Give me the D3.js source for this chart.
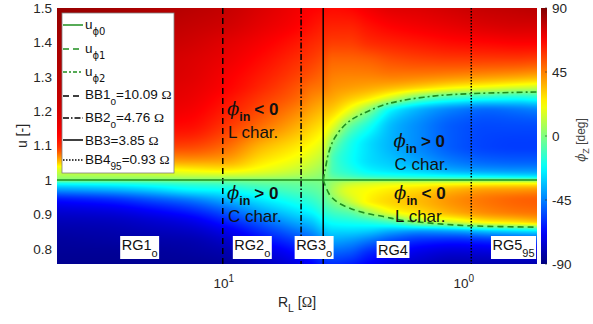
<!DOCTYPE html>
<html>
<head>
<meta charset="utf-8">
<script src="https://cdn.jsdelivr.net/npm/d3@7"></script>
<style>
  html, body { margin: 0; padding: 0; background: #fff; }
  svg { display: block; font-family: "Liberation Sans", Arial, Helvetica, sans-serif; }
</style>
</head>
<body>
<svg id="chart" width="593" height="324"></svg>
<script>
// ---- data ---------------------------------------------------------------
// Load resistance R_L [Ω] of each column of the phase map
const rlGrid = [49.5, 30, 20, 14, 10, 7, 5, 4.3, 3.85, 3.5, 3.0, 2.5, 2.0, 1.5, 1.1, 0.8, 0.6, 0.495];
// Normalised frequency u [-] of each row of the phase map (top to bottom)
const uGrid = [1.5, 1.45, 1.4, 1.35, 1.3, 1.27, 1.24, 1.2, 1.15, 1.1, 1.06, 1.03, 1.01, 1.0,
               0.99, 0.97, 0.94, 0.91, 0.88, 0.85, 0.82, 0.79, 0.756];
// Impedance phase φZ [deg]; one array per R_L column, ordered like uGrid
const phiZ = [
  [86, 85, 83, 82, 80, 79, 78, 75, 70, 60, 38, 16, 6, 0, -20, -42, -66, -75, -80, -83, -85, -86, -87],
  [84, 83, 81, 79, 78, 77, 76, 73, 68, 58, 38, 17, 7, 0, -18, -38, -62, -73, -79, -82, -84, -86, -87],
  [82, 80, 78, 76, 75, 74, 73, 71, 66, 57, 40, 20, 8, 0, -15, -32, -55, -68, -76, -80, -83, -85, -86],
  [80, 78, 76, 74, 73, 72, 71, 69, 65, 56, 42, 24, 10, 0, -12, -25, -48, -62, -72, -78, -82, -84, -86],
  [78, 76, 73, 71, 69, 68, 66, 63, 58, 50, 40, 26, 10, 0, -10, -22, -38, -52, -63, -72, -78, -82, -85],
  [74, 72, 69, 66, 63, 61, 58, 54, 47, 36, 28, 20, 9, 0, -6, -15, -27, -38, -50, -60, -68, -75, -80],
  [70, 68, 64, 60, 56, 53, 50, 44, 36, 27, 20, 13, 6, 0, -4, -9, -18, -27, -37, -48, -58, -66, -73],
  [68, 65, 61, 57, 52, 48, 44, 38, 30, 22, 15, 9, 4, 0, -3, -7, -14, -22, -32, -42, -52, -60, -68],
  [67, 63, 59, 54, 49, 46, 41, 34, 25, 16, 9, 4, 1, 0, -1, -3, -8, -15, -24, -34, -44, -53, -62],
  [66, 62, 57, 50, 45, 42, 38, 30, 15, -3, -10, -10, -6, 0, 5, 7, 0, -10, -20, -30, -40, -50, -60],
  [67, 62, 57, 50, 44, 40, 33, 18, -6, -18, -20, -17, -10, 0, 12, 18, 12, -5, -18, -30, -42, -52, -62],
  [70, 65, 60, 51, 44, 38, 27, 0, -20, -28, -28, -24, -14, 0, 15, 22, 24, 8, -15, -32, -48, -60, -68],
  [73, 68, 62, 54, 45, 35, 15, -25, -35, -36, -33, -28, -16, 0, 17, 26, 30, 22, -8, -38, -56, -66, -74],
  [74, 70, 64, 56, 44, 30, -3, -38, -44, -44, -40, -32, -18, 0, 18, 30, 35, 30, 8, -42, -62, -72, -78],
  [76, 72, 66, 57, 42, 24, -12, -46, -52, -52, -47, -38, -20, 0, 20, 36, 42, 38, 16, -40, -64, -75, -82],
  [78, 74, 67, 57, 40, 20, -16, -50, -55, -56, -51, -41, -22, 0, 21, 40, 47, 44, 26, -34, -62, -74, -82],
  [79, 75, 68, 57, 38, 16, -18, -48, -55, -57, -52, -42, -24, 0, 22, 41, 50, 47, 30, -30, -60, -73, -82],
  [80, 75, 68, 56, 36, 14, -16, -46, -55, -57, -52, -42, -25, 0, 22, 42, 51, 48, 34, -28, -58, -72, -82]
];

// Zero-phase loci: lower branch u_φ1 and upper branch u_φ2
const uPhi1R = [3.85, 3.78, 3.61, 3.38, 2.98, 2.54, 2.16, 1.84, 1.34, 0.94, 0.495];
const uPhi1  = [1.0, 0.985, 0.956, 0.937, 0.918, 0.903, 0.894, 0.884, 0.874, 0.867, 0.863];
const uPhi2R = [3.85, 3.78, 3.66, 3.49, 3.18, 2.88, 2.54, 2.16, 1.84, 1.34, 0.94, 0.495];
const uPhi2  = [1.0, 1.029, 1.077, 1.116, 1.155, 1.179, 1.198, 1.218, 1.230, 1.244, 1.251, 1.256];
const uPhi0  = 1.0;

// Bifurcation boundaries
const bbNames = ["BB1", "BB2", "BB3", "BB4"];
const bbSubs  = ["o", "o", "", "95"];
const bbValues = [10.09, 4.76, 3.85, 0.93];

// Operating regions
const regionNames = ["RG1", "RG2", "RG3", "RG4", "RG5"];
const regionSubs  = ["o", "o", "o", "", "95"];

// Axis ticks
const yTicks = [0.8, 0.9, 1, 1.1, 1.2, 1.3, 1.4, 1.5];
const xTickValues = [10, 1];
const xTickExponents = [1, 0];
const cbTicks = [-90, -45, 0, 45, 90];

// ---- layout -------------------------------------------------------------
const svg = d3.select("#chart");
const plot = { left: 57, right: 537, top: 8, bottom: 264 };
const x = d3.scaleLog().domain([49.5, 0.495]).range([plot.left, plot.right]);
const y = d3.scaleLinear().domain([0.756, 1.5]).range([plot.bottom, plot.top]);

// jet colour map over −90…90 deg
const color = d3.scaleLinear()
  .domain([-90, -67.5, -22.5, 22.5, 67.5, 90])
  .range(["#000080", "#0000ff", "#00ffff", "#ffff00", "#ff0000", "#800000"])
  .clamp(true);

const green = "#1f8f1f";
const ink = "#262626";

// ---- shape-preserving cubic (PCHIP) through grid nodes ---------------------
function pchipSlopes(xs, ys) {
  const n = xs.length, h = [], d = [], m = new Array(n);
  for (let k = 0; k < n - 1; k++) { h[k] = xs[k + 1] - xs[k]; d[k] = (ys[k + 1] - ys[k]) / h[k]; }
  m[0] = d[0]; m[n - 1] = d[n - 2];
  for (let k = 1; k < n - 1; k++) {
    if (d[k - 1] * d[k] <= 0) m[k] = 0;
    else {
      const w1 = 2 * h[k] + h[k - 1], w2 = h[k] + 2 * h[k - 1];
      m[k] = (w1 + w2) / (w1 / d[k - 1] + w2 / d[k]);
    }
  }
  return m;
}
function pchipEval(xs, ys, m, t) {
  const n = xs.length;
  if (t <= xs[0]) return ys[0];
  if (t >= xs[n - 1]) return ys[n - 1];
  let k = 0;
  while (k < n - 2 && t > xs[k + 1]) k++;
  const h = xs[k + 1] - xs[k], s = (t - xs[k]) / h;
  const s2 = s * s, s3 = s2 * s;
  return (2 * s3 - 3 * s2 + 1) * ys[k] + (s3 - 2 * s2 + s) * h * m[k]
       + (-2 * s3 + 3 * s2) * ys[k + 1] + (s3 - s2) * h * m[k + 1];
}

// ascending copies of the grid axes
const uAsc = uGrid.slice().reverse();
const colsAsc = phiZ.map(col => col.slice().reverse());
const colSlopes = colsAsc.map(col => pchipSlopes(uAsc, col));
const lrAsc = rlGrid.map(Math.log10).reverse();

// ---- phase map ------------------------------------------------------------
const W = plot.right - plot.left, H = plot.bottom - plot.top;
const canvas = document.createElement("canvas");
canvas.width = W; canvas.height = H;
const ctx = canvas.getContext("2d");
const img = ctx.createImageData(W, H);
const lut = d3.range(0, 1801).map(k => d3.rgb(color(-90 + k / 10)));
for (let py = 0; py < H; py++) {
  const u = y.invert(plot.top + py + 0.5);
  const rowVals = colsAsc.map((col, i) => pchipEval(uAsc, col, colSlopes[i], u)).reverse();
  const rowSlopes = pchipSlopes(lrAsc, rowVals);
  for (let px = 0; px < W; px++) {
    const lr = Math.log10(x.invert(plot.left + px + 0.5));
    const v = pchipEval(lrAsc, rowVals, rowSlopes, lr);
    const k = Math.max(0, Math.min(1800, Math.round((v + 90) * 10)));
    const c = lut[k];
    const o = (py * W + px) * 4;
    img.data[o] = c.r; img.data[o + 1] = c.g; img.data[o + 2] = c.b; img.data[o + 3] = 255;
  }
}
ctx.putImageData(img, 0, 0);
svg.append("image")
  .attr("x", plot.left).attr("y", plot.top)
  .attr("width", W).attr("height", H)
  .attr("preserveAspectRatio", "none")
  .attr("href", canvas.toDataURL("image/png"));

// ---- boundary lines -------------------------------------------------------
const bbDash = ["6,4", "6,2,1.5,2", null, "1.5,1.5"];
bbValues.forEach((v, i) => {
  svg.append("line")
    .attr("x1", x(v)).attr("x2", x(v))
    .attr("y1", plot.top).attr("y2", plot.bottom)
    .attr("stroke", "#000").attr("stroke-width", 1.5)
    .attr("stroke-dasharray", bbDash[i]);
});

// ---- zero-phase loci ------------------------------------------------------
const curve = d3.line().x(d => x(d[0])).y(d => y(d[1])).curve(d3.curveCatmullRom.alpha(0.5));
svg.append("line")
  .attr("x1", plot.left).attr("x2", plot.right)
  .attr("y1", y(uPhi0)).attr("y2", y(uPhi0))
  .attr("stroke", green).attr("stroke-width", 1.6);
svg.append("path")
  .attr("d", curve(uPhi1R.map((r, i) => [r, uPhi1[i]])))
  .attr("fill", "none").attr("stroke", green).attr("stroke-width", 1.6)
  .attr("stroke-dasharray", "6,4");
svg.append("path")
  .attr("d", curve(uPhi2R.map((r, i) => [r, uPhi2[i]])))
  .attr("fill", "none").attr("stroke", green).attr("stroke-width", 1.6)
  .attr("stroke-dasharray", "6,3,2,3");

// ---- characteristic annotations -----------------------------------------
const notes = [
  { R: 9.7, base: 115, rel: "< 0", kind: "L char." },
  { R: 9.7, base: 199, rel: "> 0", kind: "C char." },
  { R: 1.96, base: 147, rel: "> 0", kind: "C char." },
  { R: 1.95, base: 199, rel: "< 0", kind: "L char." }
];
notes.forEach(n => {
  const x0 = x(n.R);
  const t = svg.append("text").attr("x", x0).attr("y", n.base).attr("fill", "#111");
  t.append("tspan").attr("font-family", "'DejaVu Serif', 'Liberation Serif', serif")
    .attr("font-style", "italic").attr("font-size", 18).text("ϕ");
  t.append("tspan").attr("font-weight", "bold").attr("font-size", 12.5).attr("dy", 6).text("in");
  t.append("tspan").attr("font-weight", "bold").attr("font-size", 17).attr("dy", -6).attr("dx", 4).text(n.rel);
  svg.append("text").attr("x", x0 + 1).attr("y", n.base + 23).attr("fill", "#111")
    .attr("font-size", 17).text(n.kind);
});

// ---- region labels --------------------------------------------------------
const regionAt = [
  { R: 22.4, u: 0.80 }, { R: 7.6, u: 0.80 }, { R: 4.2, u: 0.80 },
  { R: 1.97, u: 0.80 }, { R: 0.62, u: 0.80 }
];
regionNames.forEach((name, i) => {
  const g = svg.append("g");
  const t = g.append("text")
    .attr("x", x(regionAt[i].R)).attr("y", 250 + (regionSubs[i] ? 0 : 5))
    .attr("text-anchor", "middle").attr("font-size", 14.5).attr("fill", "#111");
  t.append("tspan").text(name);
  if (regionSubs[i]) t.append("tspan").attr("font-size", 11).attr("dy", 7).text(regionSubs[i]);
  const b = t.node().getBBox();
  g.insert("rect", "text")
    .attr("x", b.x - 1.5).attr("y", b.y - 1)
    .attr("width", b.width + 3).attr("height", b.height + 1)
    .attr("fill", "#fff");
});

// ---- axes -----------------------------------------------------------------
const yAxis = svg.append("g").attr("fill", ink).attr("font-size", 13.5).attr("text-anchor", "end");
yTicks.forEach(t => {
  yAxis.append("text").attr("x", plot.left - 5).attr("y", y(t) + 4.8).text(String(t));
});
const xAxis = svg.append("g").attr("fill", ink).attr("text-anchor", "middle");
xTickValues.forEach((t, i) => {
  const tx = xAxis.append("text").attr("x", x(t)).attr("y", 288).attr("font-size", 13.5);
  tx.append("tspan").text("10");
  tx.append("tspan").attr("font-size", 10).attr("dy", -6).text(String(xTickExponents[i]));
});

// axis titles
const xt = svg.append("text").attr("x", (plot.left + plot.right) / 2).attr("y", 307)
  .attr("text-anchor", "middle").attr("font-size", 14).attr("fill", ink);
xt.append("tspan").text("R");
xt.append("tspan").attr("font-size", 10.5).attr("dy", 5).text("L");
xt.append("tspan").attr("dy", -5).text(" [");
xt.append("tspan").attr("font-family", "'Liberation Serif', serif").text("Ω");
xt.append("tspan").text("]");

svg.append("text")
  .attr("transform", `translate(27,${(plot.top + plot.bottom) / 2}) rotate(-90)`)
  .attr("text-anchor", "middle").attr("font-size", 14).attr("fill", ink).text("u [-]");

// ---- colour bar -----------------------------------------------------------
const cb = { x: 541, w: 6 };
const cbY = d3.scaleLinear().domain([-90, 90]).range([plot.bottom, plot.top]);
const grad = svg.append("defs").append("linearGradient")
  .attr("id", "jet").attr("x1", 0).attr("y1", 1).attr("x2", 0).attr("y2", 0);
d3.range(0, 181, 5).forEach(v => {
  grad.append("stop").attr("offset", v / 180).attr("stop-color", color(v - 90));
});
svg.append("rect").attr("x", cb.x).attr("y", plot.top).attr("width", cb.w)
  .attr("height", plot.bottom - plot.top).attr("fill", "url(#jet)");
cbTicks.forEach(t => {
  svg.append("line").attr("x1", cb.x + cb.w - 2).attr("x2", cb.x + cb.w)
    .attr("y1", cbY(t)).attr("y2", cbY(t)).attr("stroke", ink).attr("stroke-width", 0.6);
  svg.append("text").attr("x", cb.x + cb.w + 5).attr("y", cbY(t) + 4.8)
    .attr("font-size", 13.5).attr("fill", ink).text(String(t));
});
const cbt = svg.append("text")
  .attr("transform", `translate(585,140) rotate(-90)`)
  .attr("text-anchor", "middle").attr("font-size", 12).attr("fill", "#444");
cbt.append("tspan").attr("font-family", "'DejaVu Serif', serif").attr("font-style", "italic").text("ϕ");
cbt.append("tspan").attr("font-size", 9).attr("dy", 3.5).text("Z");
cbt.append("tspan").attr("dy", -3.5).text(" [deg]");

// ---- legend ---------------------------------------------------------------
const lg = svg.append("g");
lg.append("rect").attr("x", 62).attr("y", 13).attr("width", 112).attr("height", 160)
  .attr("fill", "#fff").attr("stroke", "#808080").attr("stroke-width", 0.8);
const legendItems = [
  { stroke: green, dash: null, ly: 25, ty: 28.5, main: "u", sub: "ϕ0", tail: "" },
  { stroke: green, dash: "6,4", ly: 49, ty: 52.5, main: "u", sub: "ϕ1", tail: "" },
  { stroke: green, dash: "4,2,2,2", ly: 72, ty: 75.5, main: "u", sub: "ϕ2", tail: "" },
  { stroke: "#000", dash: "6,4", ly: 96, ty: 99, main: bbNames[0], sub: bbSubs[0], tail: "=" + bbValues[0].toFixed(2) + " " },
  { stroke: "#000", dash: "6,2,1.5,2", ly: 118, ty: 122, main: bbNames[1], sub: bbSubs[1], tail: "=" + bbValues[1].toFixed(2) + " " },
  { stroke: "#000", dash: null, ly: 140, ty: 144.5, main: bbNames[2], sub: bbSubs[2], tail: "=" + bbValues[2].toFixed(2) + " " },
  { stroke: "#000", dash: "1.5,1.5", ly: 160, ty: 164, main: bbNames[3], sub: bbSubs[3], tail: "=" + bbValues[3].toFixed(2) + " " }
];
legendItems.forEach(it => {
  lg.append("line").attr("x1", 63).attr("x2", 83).attr("y1", it.ly).attr("y2", it.ly)
    .attr("stroke", it.stroke).attr("stroke-width", 1.5).attr("stroke-dasharray", it.dash);
  const t = lg.append("text").attr("x", 85).attr("y", it.ty).attr("font-size", 13.5).attr("fill", "#111");
  t.append("tspan").text(it.main);
  let shift = 0;
  if (it.sub) {
    const sp = t.append("tspan").attr("font-size", 10).attr("dy", 6).text(it.sub);
    if (it.sub.startsWith("ϕ")) sp.attr("font-family", "'DejaVu Sans', sans-serif");
    shift = 6;
  }
  if (it.tail) {
    t.append("tspan").attr("dy", -shift).text(it.tail);
    t.append("tspan").attr("font-family", "'Liberation Serif', serif").text("Ω");
  }
});
</script>
</body>
</html>
